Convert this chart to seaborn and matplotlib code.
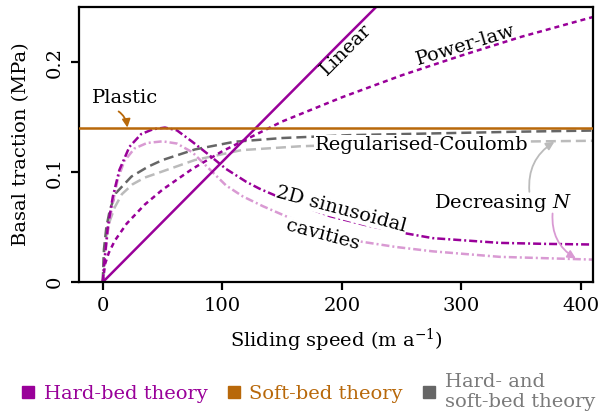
import matplotlib

matplotlib.use("Agg")
import matplotlib.pyplot as plt  # noqa: E402
import seaborn as sns  # noqa: E402
from matplotlib.lines import Line2D  # noqa: E402

sns.set_theme(style="ticks")
plt.rcParams["font.family"] = ["DejaVu Serif"]
plt.rcParams["mathtext.fontset"] = "dejavuserif"
plt.rcParams["text.color"] = "black"
plt.rcParams["axes.labelcolor"] = "black"
plt.rcParams["xtick.color"] = "black"
plt.rcParams["ytick.color"] = "black"

PURPLE = "#990099"
PINK = "#D99AD3"
ORANGE = "#B8680A"
DGRAY = "#666666"
LGRAY = "#BBBBBB"

# sliding speed (m/a) and basal traction (MPa)
linear_x = [0, 100, 200, 235]
linear_y = [0, 0.1095, 0.219, 0.257]

power_x = [0, 2, 5, 10, 20, 35, 50, 75, 100, 150, 200, 250, 300, 350, 410]
power_y = [0, 0.0168, 0.0266, 0.0376, 0.0532, 0.0704, 0.0841, 0.103, 0.119,
           0.146, 0.168, 0.188, 0.206, 0.223, 0.241]

cav_hi_x = [0, 1.4, 4.2, 8.4, 13.9, 22.3, 32, 42, 52, 62, 75, 89, 103, 120,
            131, 148, 165, 190, 220, 250, 276, 332, 370, 410]
cav_hi_y = [0, 0.020, 0.050, 0.0776, 0.102, 0.123, 0.1345, 0.139, 0.1405,
            0.138, 0.1275, 0.1155, 0.103, 0.0912, 0.085, 0.077, 0.070, 0.060,
            0.0518, 0.045, 0.040, 0.0357, 0.0348, 0.0342]

cav_lo_x = [0, 1.4, 4.2, 8.4, 12.5, 18, 26.5, 37, 50, 62, 75, 89, 103, 117,
            134, 153, 185, 215, 245, 276, 332, 410]
cav_lo_y = [0, 0.018, 0.046, 0.072, 0.0935, 0.110, 0.1215, 0.1265, 0.128,
            0.126, 0.118, 0.103, 0.088, 0.078, 0.069, 0.060, 0.047, 0.037,
            0.032, 0.028, 0.023, 0.0205]

coul_hi_x = [0, 1, 3, 6, 11, 24, 38, 50, 77, 110, 150, 206, 290, 350, 410]
coul_hi_y = [0, 0.030, 0.050, 0.066, 0.081, 0.096, 0.105, 0.111, 0.1206,
             0.1276, 0.131, 0.1336, 0.1355, 0.1368, 0.1378]

coul_lo_x = [0, 1, 3, 6, 10, 16, 25, 35, 49, 77, 116, 165, 220, 290, 350, 410]
coul_lo_y = [0, 0.025, 0.042, 0.056, 0.068, 0.080, 0.089, 0.095, 0.1003,
             0.111, 0.120, 0.1235, 0.1255, 0.127, 0.1278, 0.1285]

plastic_x = [-20, 410]
plastic_y = [0.14, 0.14]

legend_labels = ["Hard-bed theory", "Soft-bed theory", "Hard- and\nsoft-bed theory"]
legend_colors = [PURPLE, ORANGE, DGRAY]
legend_text_colors = [PURPLE, ORANGE, "#7A7A7A"]

fig = plt.figure(figsize=(6.02, 4.18), dpi=100)
ax = fig.add_axes([0.131, 0.325, 0.854, 0.658])

lw = 1.8


def draw(x, y, color, ls, z=2):
    sns.lineplot(x=x, y=y, ax=ax, color=color, linestyle=ls, linewidth=lw,
                 estimator=None, errorbar=None, sort=False, zorder=z)


draw(coul_lo_x, coul_lo_y, LGRAY, (0, (4, 2)))
draw(coul_hi_x, coul_hi_y, DGRAY, (0, (4, 2)))
draw(cav_lo_x, cav_lo_y, PINK, (0, (3.2, 1.2, 0.8, 1.2)))
draw(cav_hi_x, cav_hi_y, PURPLE, (0, (3.2, 1.2, 0.8, 1.2)))
draw(power_x, power_y, PURPLE, (0, (2, 1.6)))
draw(linear_x, linear_y, PURPLE, "-")
draw(plastic_x, plastic_y, ORANGE, "-", z=3)

ax.set_xlim(-20, 410)
ax.set_ylim(0, 0.25)
ax.set_xticks([0, 100, 200, 300, 400])
ax.set_yticks([0, 0.1, 0.2])
ax.set_yticklabels(["0", "0.1", "0.2"])
for s in ax.spines.values():
    s.set_linewidth(1.6)
    s.set_color("black")
ax.tick_params(axis="both", direction="out", length=6, width=1.6,
               labelsize=14, pad=5)
ax.tick_params(axis="y", labelrotation=90)
for lab in ax.get_yticklabels():
    lab.set_va("center")
ax.set_xlabel("Sliding speed (m a$^{-1}$)", fontsize=14, labelpad=8)
ax.set_ylabel("Basal traction (MPa)", fontsize=14, labelpad=11)

fs = 14
ax.text(203.6, 0.211, "Linear", rotation=45, ha="center", va="center",
        fontsize=fs, rotation_mode="anchor")
ax.text(303.8, 0.2155, "Power-law", rotation=17, ha="center", va="center",
        fontsize=fs, rotation_mode="anchor")
ax.text(266.5, 0.1245, "Regularised-Coulomb", ha="center", va="center",
        fontsize=fs, zorder=4,
        bbox=dict(facecolor="white", edgecolor="none", pad=0.5))
ax.text(199.4, 0.066, "2D sinusoidal", rotation=-15, ha="center", va="center",
        fontsize=fs, rotation_mode="anchor", zorder=4,
        bbox=dict(facecolor="white", edgecolor="none", pad=0.3))
ax.text(184, 0.0433, "cavities", rotation=-15, ha="center", va="center",
        fontsize=fs, rotation_mode="anchor", zorder=4,
        bbox=dict(facecolor="white", edgecolor="none", pad=0.3))
ax.text(334.4, 0.0715, "Decreasing $N$", ha="center", va="center", fontsize=fs)

ax.annotate("Plastic", xy=(20.6, 0.1405), xytext=(18.4, 0.167),
            ha="center", va="center", fontsize=fs,
            arrowprops=dict(arrowstyle="-|>", color=ORANGE, lw=1.3,
                            connectionstyle="arc3,rad=-0.4",
                            relpos=(0.22, 0), shrinkA=1, shrinkB=0,
                            mutation_scale=12))
ax.annotate("", xy=(377.7, 0.1275), xytext=(356.8, 0.0821),
            arrowprops=dict(arrowstyle="-|>", color=LGRAY, lw=1.3,
                            connectionstyle="arc3,rad=-0.3",
                            shrinkA=0, shrinkB=0, mutation_scale=12))
ax.annotate("", xy=(395.7, 0.0215), xytext=(376.2, 0.0624),
            arrowprops=dict(arrowstyle="-|>", color=PINK, lw=1.3,
                            connectionstyle="arc3,rad=0.3",
                            shrinkA=0, shrinkB=0, mutation_scale=12))

handles = [Line2D([], [], marker="s", linestyle="", color=c, markersize=8)
           for c in legend_colors]
fig.legend(handles, legend_labels, loc="center", ncol=3, frameon=False,
           bbox_to_anchor=(0.512, 1 - 392 / 418), fontsize=14,
           handlelength=0.7, handletextpad=0.45, columnspacing=1.0,
           labelcolor=legend_text_colors)

fig.savefig("out.png", dpi=100)
